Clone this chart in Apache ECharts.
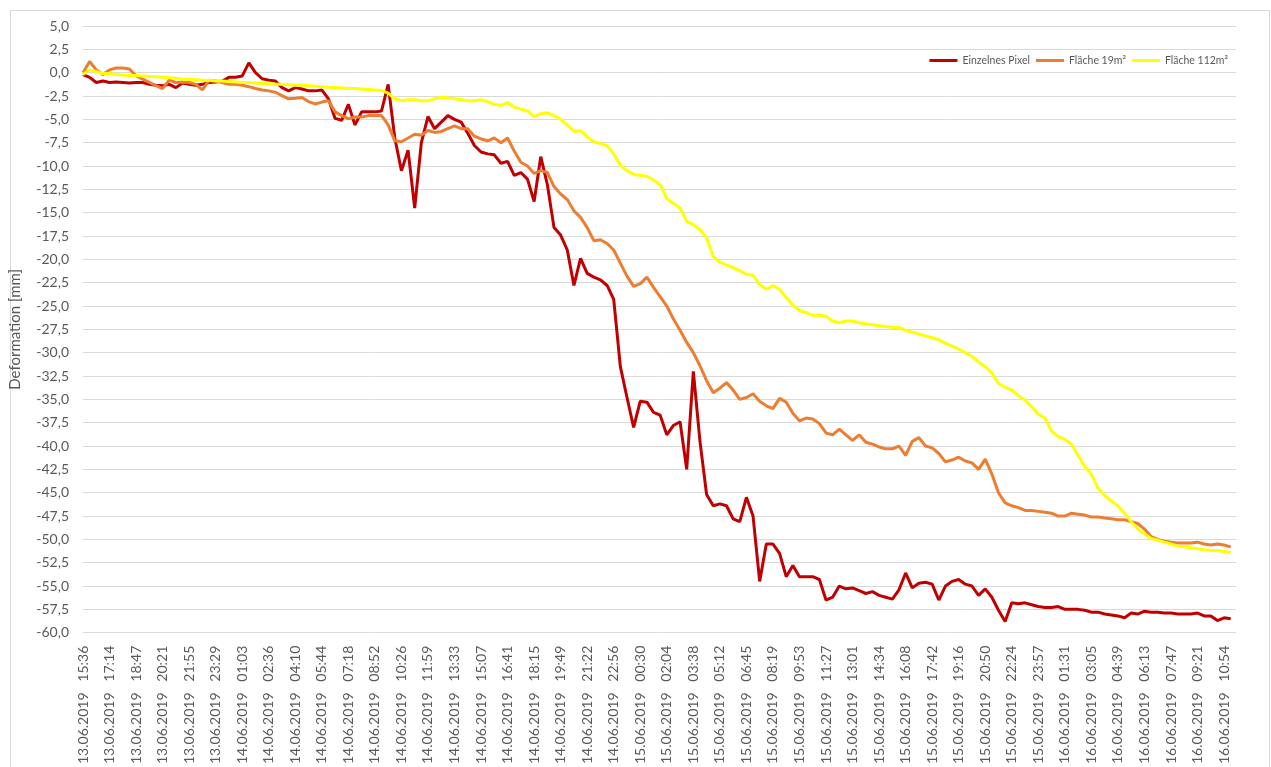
<!DOCTYPE html>
<html>
<head>
<meta charset="utf-8">
<title>Deformation</title>
<script src="https://cdn.jsdelivr.net/npm/echarts@6.0.0/dist/echarts.min.js"></script>
<style>
  html, body { margin: 0; padding: 0; background: #fff; }
  #chart { width: 1271px; height: 767px; }
</style>
</head>
<body>
<div id="chart"></div>
<script>
// one label per tick, every ~94 minutes
var tickLabels = [
    '13.06.2019   15:36', '13.06.2019   17:14', '13.06.2019   18:47', '13.06.2019   20:21',
    '13.06.2019   21:55', '13.06.2019   23:29',
    '14.06.2019   01:03', '14.06.2019   02:36', '14.06.2019   04:10', '14.06.2019   05:44',
    '14.06.2019   07:18', '14.06.2019   08:52', '14.06.2019   10:26', '14.06.2019   11:59',
    '14.06.2019   13:33', '14.06.2019   15:07', '14.06.2019   16:41', '14.06.2019   18:15',
    '14.06.2019   19:49', '14.06.2019   21:22', '14.06.2019   22:56',
    '15.06.2019   00:30', '15.06.2019   02:04', '15.06.2019   03:38', '15.06.2019   05:12',
    '15.06.2019   06:45', '15.06.2019   08:19', '15.06.2019   09:53', '15.06.2019   11:27',
    '15.06.2019   13:01', '15.06.2019   14:34', '15.06.2019   16:08', '15.06.2019   17:42',
    '15.06.2019   19:16', '15.06.2019   20:50', '15.06.2019   22:24', '15.06.2019   23:57',
    '16.06.2019   01:31', '16.06.2019   03:05', '16.06.2019   04:39', '16.06.2019   06:13',
    '16.06.2019   07:47', '16.06.2019   09:21', '16.06.2019   10:54'
];

// samples every quarter of a tick step
var step = 0.25;

var seriesNames = ['Einzelnes Pixel', 'Fläche 19m²', 'Fläche 112m²'];

var pixel = [
    -0.2, -0.5, -1.05, -0.9, -1.05, -1.0, -1.05, -1.1, -1.05, -1.05,
    -1.25, -1.35, -1.4, -1.25, -1.6, -1.1, -1.25, -1.35, -1.25, -1.05,
    -1.0, -0.9, -0.5, -0.5, -0.35, 1.05, 0.0, -0.65, -0.8, -0.9,
    -1.6, -1.95, -1.6, -1.75, -1.95, -1.95, -1.85, -2.8, -4.9, -5.1,
    -3.4, -5.6, -4.2, -4.2, -4.2, -4.1, -1.25, -7.0, -10.5, -8.3,
    -14.5, -7.5, -4.7, -6.0, -5.3, -4.6, -5.0, -5.3, -6.5, -7.8,
    -8.5, -8.7, -8.8, -9.7, -9.5, -11.0, -10.7, -11.4, -13.8, -9.0,
    -12.0, -16.6, -17.4, -19.0, -22.8, -19.9, -21.5, -21.9, -22.2, -22.8,
    -24.3, -31.5, -34.8, -38.0, -35.2, -35.3, -36.4, -36.7, -38.8, -37.8,
    -37.4, -42.5, -32.0, -39.5, -45.2, -46.4, -46.2, -46.4, -47.8, -48.1,
    -45.5, -47.5, -54.5, -50.5, -50.5, -51.5, -54.0, -52.8, -54.0, -54.0,
    -54.0, -54.3, -56.5, -56.2, -55.0, -55.3, -55.2, -55.5, -55.8, -55.6,
    -56.0, -56.2, -56.4, -55.4, -53.6, -55.2, -54.7, -54.6, -54.8, -56.5,
    -55.0, -54.5, -54.3, -54.8, -55.0, -56.0, -55.3, -56.2, -57.6, -58.8,
    -56.8, -56.9, -56.8, -57.0, -57.2, -57.3, -57.3, -57.2, -57.5, -57.5,
    -57.5, -57.6, -57.8, -57.8, -58.0, -58.1, -58.2, -58.4, -57.9, -58.0,
    -57.7, -57.8, -57.8, -57.9, -57.9, -58.0, -58.0, -58.0, -57.9, -58.2,
    -58.2, -58.7, -58.4, -58.5
];

var area19 = [
    0.0, 1.2, 0.3, -0.2, 0.3, 0.5, 0.5, 0.4, -0.35, -0.7,
    -1.05, -1.4, -1.7, -0.8, -1.05, -1.0, -1.05, -1.25, -1.85, -0.8,
    -0.9, -1.05, -1.25, -1.25, -1.35, -1.5, -1.7, -1.85, -1.95, -2.1,
    -2.45, -2.8, -2.75, -2.65, -3.1, -3.35, -3.15, -3.0, -4.2, -4.6,
    -4.95, -4.75, -4.75, -4.6, -4.6, -4.6, -5.6, -7.3, -7.4, -7.0,
    -6.6, -6.7, -6.2, -6.4, -6.3, -6.0, -5.7, -6.0, -6.0, -6.8,
    -7.1, -7.3, -7.0, -7.5, -7.0, -8.4, -9.6, -10.0, -10.8, -10.5,
    -10.7, -12.2, -13.0, -13.6, -14.8, -15.5, -16.6, -18.0, -17.9, -18.3,
    -19.0, -20.4, -21.8, -22.9, -22.6, -21.9, -23.0, -24.0, -25.0, -26.4,
    -27.6, -28.9, -30.0, -31.4, -33.0, -34.3, -33.8, -33.2, -34.0, -35.0,
    -34.8, -34.4, -35.2, -35.7, -36.0, -34.9, -35.3, -36.5, -37.3, -37.0,
    -37.1, -37.6, -38.6, -38.8, -38.2, -38.8, -39.4, -38.8, -39.6, -39.8,
    -40.1, -40.3, -40.3, -40.0, -41.0, -39.5, -39.1, -40.0, -40.2, -40.8,
    -41.7, -41.5, -41.2, -41.6, -41.8, -42.5, -41.4, -43.0, -45.0, -46.1,
    -46.4, -46.6, -46.9, -46.9, -47.0, -47.1, -47.2, -47.5, -47.5, -47.2,
    -47.3, -47.4, -47.6, -47.6, -47.7, -47.8, -47.9, -47.9, -48.1, -48.3,
    -48.9, -49.7, -50.0, -50.2, -50.3, -50.4, -50.4, -50.4, -50.3, -50.5,
    -50.6, -50.5, -50.6, -50.8
];

var area112 = [
    -0.2, 0.3, 0.1, -0.1, -0.1, -0.2, -0.25, -0.3, -0.3, -0.35,
    -0.4, -0.45, -0.5, -0.55, -0.6, -0.7, -0.7, -0.75, -0.8, -0.85,
    -0.9, -0.9, -0.95, -1.0, -1.05, -1.05, -1.1, -1.15, -1.2, -1.25,
    -1.25, -1.3, -1.35, -1.35, -1.4, -1.45, -1.5, -1.55, -1.6, -1.65,
    -1.7, -1.7, -1.75, -1.8, -1.85, -1.9, -2.2, -2.8, -3.0, -2.9,
    -2.9, -3.0, -3.0, -2.8, -2.65, -2.7, -2.8, -2.9, -3.0, -3.0,
    -2.9, -3.1, -3.4, -3.5, -3.2, -3.7, -3.9, -4.1, -4.7, -4.4,
    -4.3, -4.6, -5.0, -5.6, -6.3, -6.2, -6.9, -7.4, -7.6, -7.8,
    -8.7, -9.9, -10.5, -10.9, -11.0, -11.1, -11.5, -12.0, -13.5, -14.0,
    -14.5, -15.9, -16.3, -16.8, -17.7, -19.7, -20.3, -20.6, -20.9, -21.2,
    -21.6, -21.7, -22.7, -23.2, -22.8, -23.2, -24.1, -24.9, -25.5, -25.7,
    -26.0, -26.0, -26.1, -26.6, -26.8, -26.6, -26.6, -26.8, -26.9, -27.0,
    -27.1, -27.2, -27.3, -27.3, -27.6, -27.8, -28.0, -28.2, -28.4, -28.6,
    -29.0, -29.3, -29.6, -30.0, -30.4, -31.0, -31.5, -32.2, -33.3, -33.7,
    -34.0, -34.6, -35.1, -35.8, -36.6, -37.0, -38.4, -39.0, -39.3, -39.8,
    -41.0, -42.2, -43.0, -44.5, -45.3, -45.9, -46.4, -47.2, -48.1, -48.9,
    -49.4, -49.9, -50.1, -50.3, -50.5, -50.7, -50.8, -50.9, -51.0, -51.1,
    -51.2, -51.2, -51.3, -51.4
];

var colors = ['#C00000', '#ED7D31', '#FFFF00'];
var textColor = '#595959';
var gridColor = '#D9D9D9';
var fontName = 'Lato';

function toPairs(list) {
    var out = [];
    for (var i = 0; i < list.length; i++) {
        out.push([i * step, list[i]]);
    }
    return out;
}

function makeSeries(name, list, color) {
    return {
        name: name,
        type: 'line',
        data: toPairs(list),
        showSymbol: false,
        symbol: 'none',
        animation: false,
        color: color,
        lineStyle: { color: color, width: 3 }
    };
}

var chart = echarts.init(document.getElementById('chart'));

chart.setOption({
    animation: false,
    backgroundColor: '#ffffff',
    textStyle: { fontFamily: fontName },
    graphic: [{
        type: 'rect',
        shape: { x: 10.5, y: 10.5, width: 1259, height: 800 },
        style: { fill: 'none', stroke: gridColor, lineWidth: 1 },
        silent: true
    }],
    legend: {
        data: seriesNames,
        right: 38,
        top: 50,
        icon: 'rect',
        itemWidth: 28,
        itemHeight: 3,
        itemGap: 6,
        textStyle: { color: textColor, fontSize: 10.5, fontFamily: fontName }
    },
    grid: {
        left: 83,
        right: 35,
        top: 26,
        bottom: 127,
        containLabel: false
    },
    xAxis: {
        type: 'value',
        min: 0,
        max: 43.45,
        interval: 1,
        axisLine: { show: true, lineStyle: { color: gridColor, width: 1 } },
        axisTick: { show: false },
        splitLine: { show: false },
        axisLabel: {
            rotate: 90,
            margin: 13,
            color: textColor,
            fontSize: 14,
            fontFamily: fontName,
            showMaxLabel: false,
            formatter: function (v) {
                if (Math.abs(v - Math.round(v)) > 1e-6) return '';
                return tickLabels[Math.round(v)] || '';
            }
        }
    },
    yAxis: {
        type: 'value',
        min: -60,
        max: 5,
        interval: 2.5,
        name: 'Deformation [mm]',
        nameLocation: 'middle',
        nameGap: 60,
        nameTextStyle: { color: textColor, fontSize: 15, fontFamily: fontName },
        axisLine: { show: false },
        axisTick: { show: false },
        splitLine: { lineStyle: { color: gridColor, width: 1 } },
        axisLabel: {
            margin: 14,
            color: textColor,
            fontSize: 14,
            fontFamily: fontName,
            formatter: function (v) {
                return v.toFixed(1).replace('.', ',');
            }
        }
    },
    series: [
        makeSeries(seriesNames[0], pixel, colors[0]),
        makeSeries(seriesNames[1], area19, colors[1]),
        makeSeries(seriesNames[2], area112, colors[2])
    ]
});
</script>
</body>
</html>
